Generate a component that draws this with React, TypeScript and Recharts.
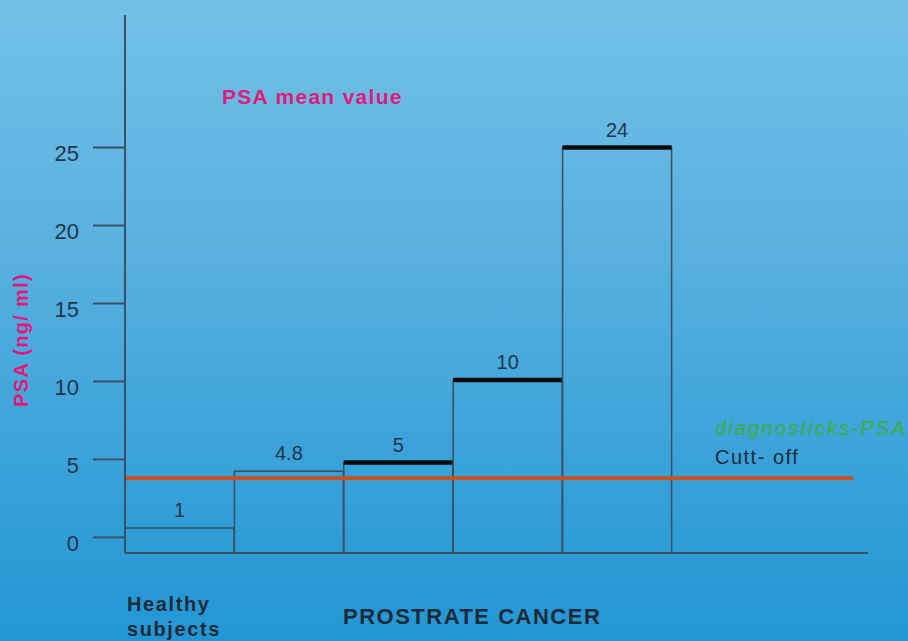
import React from "react";
import { ComposedChart, Bar, XAxis, YAxis, ReferenceLine, LabelList } from "recharts";

const categories = ["Healthy subjects", "PC group 1", "PC group 2", "PC group 3", "PC group 4"];
const barValues = [0.6, 4.25, 4.8, 10.1, 25];
const valueLabels = ["1", "4.8", "5", "10", "24"];
const yTicks = [0, 5, 10, 15, 20, 25];
const cutoffValue = 3.8;
const Y_MIN = -1;
const Y_MAX = 33.5;

const rows = categories.map((c, i) => ({
  name: c,
  range: [Y_MIN, barValues[i]],
  label: valueLabels[i],
}));

const AXIS = "#3c5064";
const FONT = "'Liberation Sans', Arial, sans-serif";

const BarShape = (props: any) => {
  const { x, y, width, height, index } = props;
  const thick = index >= 2;
  return (
    <g>
      <rect x={x} y={y} width={width} height={height} fill="none" stroke={AXIS} strokeWidth={1.6} />
      {thick && <line x1={x} x2={x + width} y1={y} y2={y} stroke="#0b0b0b" strokeWidth={4.5} />}
    </g>
  );
};

const YTick = (props: any) => {
  const { x, y, payload } = props;
  return (
    <text x={x} y={y + 6} textAnchor="end" dominantBaseline="central" fill="#22364a" fontSize={22} fontFamily={FONT}>
      {payload.value}
    </text>
  );
};

const CutoffLine = (props: any) => {
  const { x1, x2, y1, y2 } = props;
  return <line x1={x1} x2={x2 - 15} y1={y1} y2={y2} stroke="#c9521c" strokeWidth={4} />;
};

const txt = (style: React.CSSProperties): React.CSSProperties => ({
  position: "absolute",
  fontFamily: FONT,
  whiteSpace: "nowrap",
  lineHeight: 1,
  ...style,
});

export default function App() {
  return (
    <div
      style={{
        position: "absolute",
        left: 0,
        top: 0,
        width: 908,
        height: 641,
        overflow: "hidden",
        background: "linear-gradient(180deg, #72c1e7 0%, #5cb2e0 35%, #3ba3da 70%, #2296d4 100%)",
      }}
    >
      <ComposedChart
        width={908}
        height={641}
        data={rows}
        margin={{ top: 15, right: 40, bottom: 87, left: 0 }}
        barCategoryGap={0}
      >
        <XAxis
          dataKey="name"
          tick={false}
          tickLine={false}
          height={1}
          padding={{ left: 0, right: 196 }}
          axisLine={{ stroke: AXIS, strokeWidth: 2 }}
        />
        <YAxis
          width={125}
          domain={[Y_MIN, Y_MAX]}
          ticks={yTicks}
          type="number"
          allowDataOverflow
          tickSize={32}
          tickMargin={14}
          tick={<YTick />}
          tickLine={{ stroke: AXIS, strokeWidth: 2 }}
          axisLine={{ stroke: AXIS, strokeWidth: 2 }}
        />
        <ReferenceLine y={cutoffValue} shape={<CutoffLine />} />
        <Bar dataKey="range" isAnimationActive={false} shape={<BarShape />}>
          <LabelList dataKey="label" position="top" offset={11} fill="#22364a" fontSize={20} fontFamily={FONT} />
        </Bar>
      </ComposedChart>

      <div style={txt({ left: 222, top: 86, fontSize: 21, fontWeight: 700, color: "#e0197c", letterSpacing: 1.3 })}>
        PSA mean value
      </div>
      <div
        style={txt({
          left: 21,
          top: 340,
          fontSize: 20,
          fontWeight: 700,
          color: "#e0197c",
          letterSpacing: 1.3,
          transform: "translate(-50%, -50%) rotate(-90deg)",
        })}
      >
        PSA (ng/ ml)
      </div>
      <div style={txt({ left: 715, top: 418, fontSize: 20, fontStyle: "italic", color: "#3fae3a", letterSpacing: 2.2 })}>
        diagnosticks-PSA
      </div>
      <div style={txt({ left: 715, top: 447, fontSize: 20, color: "#1b2a3c", letterSpacing: 1.5 })}>Cutt- off</div>
      <div style={txt({ left: 127, top: 592, fontSize: 20, fontWeight: 700, color: "#1c2a38", letterSpacing: 1.6, lineHeight: "25px" })}>
        Healthy
        <br />
        subjects
      </div>
      <div style={txt({ left: 343, top: 606, fontSize: 22, fontWeight: 700, color: "#1c2a38", letterSpacing: 1.5 })}>
        PROSTRATE CANCER
      </div>
    </div>
  );
}
